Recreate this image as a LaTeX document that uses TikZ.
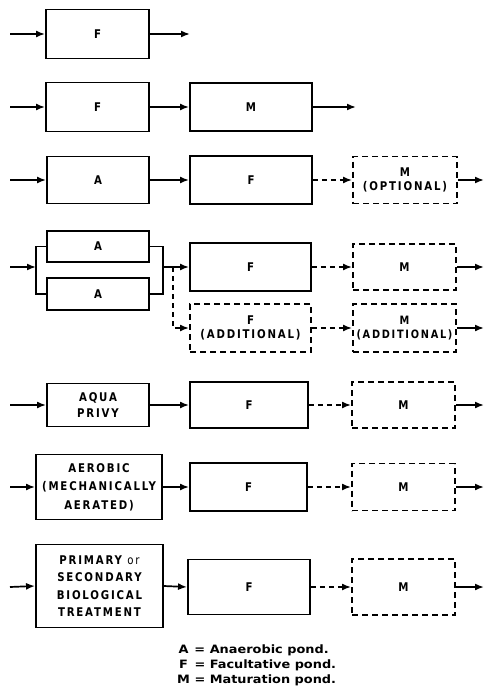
\documentclass[tikz,border=0pt]{standalone}
\usepackage{fontspec}
\setmainfont{DejaVu Sans}
\newfontfamily\boxfont[FakeStretch=0.85,LetterSpace=15]{DejaVu Sans}
\newfontfamily\legfont[FakeStretch=1.12]{DejaVu Sans}
\usetikzlibrary{arrows.meta}
\begin{document}
\begin{tikzpicture}[x=1pt,y=-1pt,
  pbox/.style={draw, line width=1.9pt, inner sep=1pt, align=center,
    font=\boxfont\bfseries\fontsize{12}{18.5}\selectfont},
  obox/.style={pbox, dash pattern=on 6pt off 4pt},
  conn/.style={line width=1.7pt, -{Latex[length=9pt,width=7pt]}},
  dconn/.style={conn, dash pattern=on 5pt off 4pt},
  plain/.style={line width=1.7pt},
  dplain/.style={line width=1.7pt, dash pattern=on 5pt off 4pt}]
\useasboundingbox (0,0) rectangle (484,698);

% Row 1
\node[pbox, minimum width=103pt, minimum height=49pt] (F1) at (97.5,34) {F};
\coordinate (i1) at (10,34);
\coordinate (o1) at (190,34);
\draw[conn] (i1) -- (F1.west);
\draw[conn] (F1.east) -- (o1);

% Row 2
\node[pbox, minimum width=103pt, minimum height=49pt] (F2) at (97.5,107) {F};
\node[pbox, minimum width=122pt, minimum height=48pt] (M2) at (251,107) {M};
\coordinate (i2) at (10,107);
\coordinate (o2) at (356,107);
\draw[conn] (i2) -- (F2.west);
\draw[conn] (F2.east) -- (M2.west);
\draw[conn] (M2.east) -- (o2);

% Row 3
\node[pbox, minimum width=102pt, minimum height=47pt] (A3) at (98,180) {A};
\node[pbox, minimum width=122pt, minimum height=48pt] (F3) at (251,180) {F};
\node[obox, minimum width=104pt, minimum height=47pt] (M3) at (405,180) {M\\[-5pt](OPTIONAL)};
\coordinate (i3) at (10,180);
\coordinate (o3) at (484,180);
\draw[conn] (i3) -- (A3.west);
\draw[conn] (A3.east) -- (F3.west);
\draw[dconn] (F3.east) -- (M3.west);
\draw[conn] (M3.east) -- (o3);

% Row 4
\node[pbox, minimum width=102pt, minimum height=31pt] (A4a) at (98,246.5) {A};
\node[pbox, minimum width=102pt, minimum height=32pt] (A4b) at (98,294) {A};
\node[pbox, minimum width=121pt, minimum height=48pt] (F4) at (250.5,267) {F};
\node[obox, minimum width=103pt, minimum height=46pt] (M4) at (404.5,267) {M};
\node[obox, minimum width=121pt, minimum height=48pt] (F4b) at (250.5,328) {F\\[-5pt](ADDITIONAL)};
\node[obox, minimum width=103pt, minimum height=48pt, font=\boxfont\bfseries\fontsize{11.5}{18.5}\selectfont] (M4b) at (404.5,328) {M\\[-5pt](ADDITIONAL)};
\coordinate (i4) at (10,267);
\coordinate (jl) at (36,267);
\coordinate (jr) at (163,267);
\coordinate (jd) at (173,267);
\coordinate (o4) at (484,267);
\coordinate (o4b) at (484,328);
\draw[conn] (i4) -- (jl);
\draw[plain] (A4a.west) -| (jl) |- (A4b.west);
\draw[plain] (A4a.east) -| (jr) |- (A4b.east);
\draw[conn] (jr) -- (F4.west);
\draw[dconn] (jd) |- (F4b.west);
\draw[dconn] (F4.east) -- (M4.west);
\draw[conn] (M4.east) -- (o4);
\draw[dconn] (F4b.east) -- (M4b.west);
\draw[conn] (M4b.east) -- (o4b);

% Row 5
\node[pbox, minimum width=102pt, minimum height=43pt] (AQ) at (98,405) {AQUA\\[-2pt]PRIVY};
\node[pbox, minimum width=118pt, minimum height=46pt] (F5) at (249,405) {F};
\node[obox, minimum width=103pt, minimum height=46pt] (M5) at (403.5,405) {M};
\coordinate (i5) at (10,405);
\coordinate (o5) at (484,405);
\draw[conn] (i5) -- (AQ.west);
\draw[conn] (AQ.east) -- (F5.west);
\draw[dconn] (F5.east) -- (M5.west);
\draw[conn] (M5.east) -- (o5);

% Row 6
\node[pbox, minimum width=126pt, minimum height=65pt] (AE) at (99,487) {AEROBIC\\(MECHANICALLY\\AERATED)};
\node[pbox, minimum width=117pt, minimum height=48pt] (F6) at (248.5,487) {F};
\node[obox, minimum width=103pt, minimum height=47pt] (M6) at (403.5,487) {M};
\coordinate (i6) at (10,487);
\coordinate (o6) at (484,487);
\draw[conn] (i6) -- (AE.west);
\draw[conn] (AE.east) -- (F6.west);
\draw[dconn] (F6.east) -- (M6.west);
\draw[conn] (M6.east) -- (o6);

% Row 7
\node[pbox, minimum width=127pt, minimum height=83pt] (PR) at (99.5,586) {PRIMARY {\mdseries or}\\[-1pt]SECONDARY\\[-1pt]BIOLOGICAL\\[-1pt]TREATMENT};
\node[pbox, minimum width=122pt, minimum height=55pt] (F7) at (249,587) {F};
\node[obox, minimum width=103pt, minimum height=56pt] (M7) at (403.5,587) {M};
\coordinate (i7) at (10,587);
\coordinate (o7) at (484,587);
\draw[conn] (i7) -- (PR.west);
\draw[conn] (PR.east) -- (F7.west);
\draw[dconn] (F7.east) -- (M7.west);
\draw[conn] (M7.east) -- (o7);

% Legend
\node[anchor=north west, inner sep=0pt, font=\legfont\bfseries\fontsize{11.5}{15}\selectfont] (leg) at (177,643)
  {\begin{tabular}{@{}c@{\ =\ }l@{}}A & Anaerobic pond.\\F & Facultative pond.\\M & Maturation pond.\end{tabular}};
\end{tikzpicture}
\end{document}
